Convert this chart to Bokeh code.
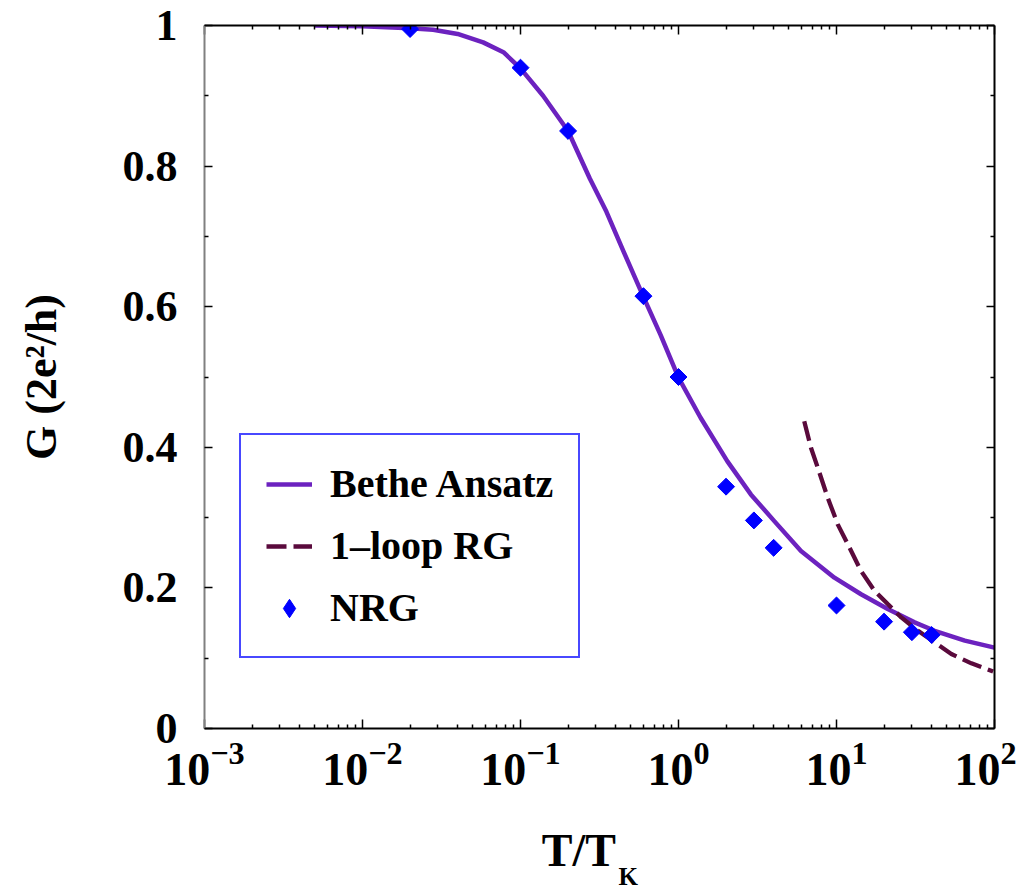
import math
from bokeh.plotting import figure
from bokeh.models import Range1d, LinearAxis, FixedTicker, Legend, LegendItem
from bokeh.embed import file_html
from bokeh.resources import INLINE

# ---- data ----
T_bethe = [0.005, 0.01, 0.02, 0.028, 0.04, 0.058, 0.078, 0.1, 0.139, 0.2,
           0.275, 0.35, 0.45, 0.6, 0.77, 1.0, 1.38, 2.04, 2.87, 4.04, 5.96,
           9.7, 14.3, 21.1, 31.2, 41.8, 64.9, 100]
G_bethe = [1.0, 0.999, 0.996, 0.994, 0.988, 0.976, 0.962, 0.939, 0.9, 0.85,
           0.782, 0.735, 0.678, 0.614, 0.56, 0.499, 0.442, 0.38, 0.333, 0.295,
           0.2525, 0.2146, 0.191, 0.17, 0.151, 0.139, 0.125, 0.115]

T_rg = [6.25, 6.9, 7.61, 8.81, 10.2, 12.1, 14.3, 17.4, 21.1, 25.7, 32.8,
        41.8, 53.3, 71.4, 98]
G_rg = [0.437, 0.399, 0.371, 0.328, 0.29, 0.257, 0.224, 0.196, 0.177, 0.158,
        0.139, 0.1224, 0.106, 0.0927, 0.081]

T_nrg = [0.02, 0.1, 0.2, 0.6, 1.0, 2.0, 3.0, 4.0, 10, 20, 30, 40]
G_nrg = [0.995, 0.94, 0.85, 0.615, 0.5, 0.344, 0.296, 0.257, 0.175, 0.152,
         0.137, 0.133]

x_ticks = [1e-3, 1e-2, 1e-1, 1.0, 10.0, 100.0]
x_minor = [k * 10.0 ** d for d in range(-3, 2) for k in range(2, 10)]
y_ticks = [0, 0.2, 0.4, 0.6, 0.8, 1.0]
y_tick_labels = ["0", "0.2", "0.4", "0.6", "0.8", "1"]
y_minor = [0.1, 0.3, 0.5, 0.7, 0.9]

series_labels = ["Bethe Ansatz", "1\u2013loop RG", "NRG"]
y_label = "G (2e\u00b2/h)"
x_label_main = "T/T"
x_label_sub = "K"
x_label_main_at = 0.234   # x-position (data) of the "T/T" part
x_label_sub_at = 0.48     # x-position (data) of the subscript "K"

FONT = "Liberation Serif"
BETHE_C = "#6c22bf"
RG_C = "#5a0a3c"
NRG_C = "#0000ff"

p = figure(frame_width=790, frame_height=703, x_axis_type="log",
           x_range=Range1d(1e-3, 100), y_range=Range1d(0, 1),
           output_backend="svg", toolbar_location=None,
           min_border_left=204, min_border_right=22,
           min_border_top=25, min_border_bottom=160,
           outline_line_color=None)
p.grid.visible = False

# bottom axis
xa = p.xaxis[0]
xa.ticker = FixedTicker(ticks=x_ticks, minor_ticks=x_minor)
xa.major_tick_in = 9
xa.major_tick_out = 0
xa.minor_tick_in = 4
xa.minor_tick_out = 0
xa.axis_line_width = 2
xa.major_tick_line_width = 1.5
xa.minor_tick_line_width = 1.5
xa.major_label_text_font = FONT
xa.major_label_text_font_style = "bold"
xa.major_label_text_font_size = "46px"
xa.major_label_text_color = "black"
xa.major_label_standoff = 14

# x-axis title "T/T" + subscript "K", drawn as labels of two extra bottom axes
ax_t = LinearAxis(ticker=FixedTicker(ticks=[x_label_main_at], minor_ticks=[]),
                  major_label_overrides={x_label_main_at: x_label_main},
                  major_tick_in=0, major_tick_out=0, axis_line_color=None,
                  major_tick_line_color=None,
                  major_label_text_font=FONT, major_label_text_font_style="bold",
                  major_label_text_font_size="46px",
                  major_label_text_color="black", major_label_standoff=37)
p.add_layout(ax_t, "below")
ax_k = LinearAxis(ticker=FixedTicker(ticks=[x_label_sub_at], minor_ticks=[]),
                  major_label_overrides={x_label_sub_at: x_label_sub},
                  major_tick_in=0, major_tick_out=0, axis_line_color=None,
                  major_tick_line_color=None,
                  major_label_text_font=FONT, major_label_text_font_style="bold",
                  major_label_text_font_size="25px",
                  major_label_text_color="black", major_label_standoff=-16)
p.add_layout(ax_k, "below")

# left axis
ya = p.yaxis[0]
ya.ticker = FixedTicker(ticks=y_ticks, minor_ticks=y_minor)
ya.major_label_overrides = dict(zip(y_ticks, y_tick_labels))
ya.major_tick_in = 8
ya.major_tick_out = 0
ya.minor_tick_in = 4
ya.minor_tick_out = 0
ya.axis_line_width = 2
ya.axis_line_color = "#808080"
ya.major_tick_line_width = 1.5
ya.minor_tick_line_width = 1.5
ya.major_label_text_font = FONT
ya.major_label_text_font_style = "bold"
ya.major_label_text_font_size = "44px"
ya.major_label_text_color = "black"
ya.major_label_standoff = 27
ya.axis_label = y_label
ya.axis_label_text_font = FONT
ya.axis_label_text_font_style = "bold"
ya.axis_label_text_font_size = "44px"
ya.axis_label_text_color = "black"
ya.axis_label_standoff = 54

# top axis (ticks only)
top = LinearAxis(ticker=FixedTicker(ticks=x_ticks, minor_ticks=x_minor),
                 major_tick_in=9, major_tick_out=0, minor_tick_in=4,
                 minor_tick_out=0, axis_line_width=2,
                 major_tick_line_width=1.5, minor_tick_line_width=1.5,
                 major_label_overrides={t: "" for t in x_ticks},
                 major_label_text_font_size="1px", major_label_standoff=0)
p.add_layout(top, "above")

# right axis (ticks only)
right = LinearAxis(ticker=FixedTicker(ticks=y_ticks, minor_ticks=y_minor),
                   major_tick_in=8, major_tick_out=0, minor_tick_in=4,
                   minor_tick_out=0, axis_line_width=2,
                   major_tick_line_width=1.5, minor_tick_line_width=1.5,
                   major_label_overrides={t: "" for t in y_ticks},
                   major_label_text_font_size="1px", major_label_standoff=0)
p.add_layout(right, "right")

r1 = p.line(T_bethe, G_bethe, line_color=BETHE_C, line_width=4.5,
            line_join="round")
r2 = p.line(T_rg, G_rg, line_color=RG_C, line_width=4.3, line_dash="20 7")
# diamond-shaped NRG key (legend swatch); hidden under the tilted squares
r3_key = p.scatter(T_nrg, G_nrg, marker="diamond", size=15,
                   fill_color=NRG_C, line_color=NRG_C)
r3 = p.scatter(T_nrg, G_nrg, marker="square", angle=math.pi / 4, size=12,
               fill_color=NRG_C, line_color=NRG_C)

legend = Legend(items=[LegendItem(label=series_labels[0], renderers=[r1]),
                       LegendItem(label=series_labels[1], renderers=[r2]),
                       LegendItem(label=series_labels[2], renderers=[r3_key])],
                location=(35, 70), padding=25, spacing=15,
                glyph_width=46, glyph_height=46, label_height=46,
                label_standoff=18, margin=0,
                label_text_font=FONT, label_text_font_style="bold",
                label_text_font_size="40px", label_text_color="black",
                border_line_color="#4848ff", border_line_width=2,
                border_line_alpha=1.0,
                background_fill_color="white", background_fill_alpha=1)
p.add_layout(legend)

open("out.html", "w").write(file_html(p, INLINE))
